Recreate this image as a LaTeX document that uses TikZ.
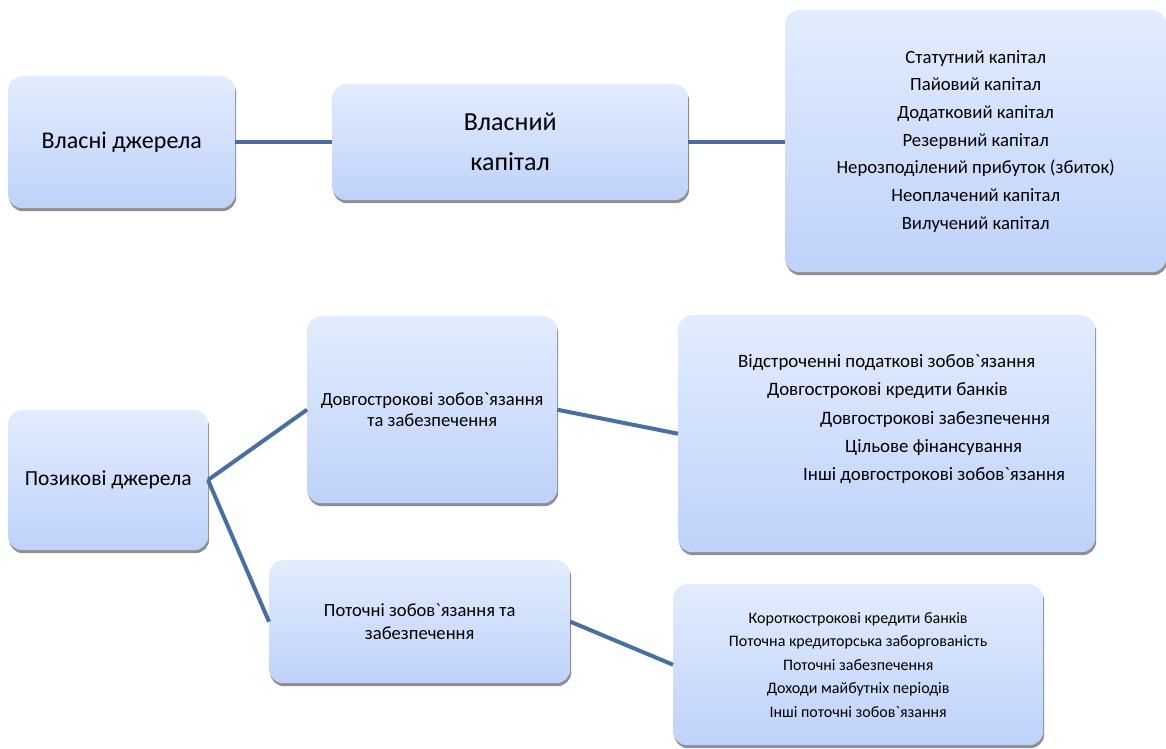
\documentclass[tikz,border=0pt]{standalone}
\usepackage{fontspec}
\setmainfont{Carlito}[Ligatures=TeXOff]
\usetikzlibrary{shadows}
\definecolor{boxtop}{RGB}{226,236,253}
\definecolor{boxbot}{RGB}{190,210,250}
\definecolor{linkc}{RGB}{74,110,162}
\definecolor{shadowc}{RGB}{130,130,130}
\tikzset{
  box/.style={rounded corners=14pt, top color=boxtop, bottom color=boxbot, draw=none,
    drop shadow={shadow xshift=1pt, shadow yshift=-3pt, fill=shadowc, opacity=0.9},
    anchor=north west, inner sep=0pt, align=center},
  link/.style={draw=linkc, line width=4pt},
  item/.style={font=\fontsize{18.9}{28}\selectfont, anchor=west, inner sep=0pt}
}
\begin{document}
\begin{tikzpicture}[x=1pt,y=-1pt]
\useasboundingbox (0,0) rectangle (1166,748);
\clip (0,0) rectangle (1166,748);
% boxes
\node[box, font=\fontsize{24}{28}\selectfont, minimum width=227pt, minimum height=132pt] (own) at (8,76) {Власні джерела};
\node[box, font=\fontsize{26}{40}\selectfont, minimum width=356pt, minimum height=116pt] (eq) at (332,84) {Власний\\капітал};
\node[box, font=\fontsize{18.7}{27.7}\selectfont, minimum width=381pt, minimum height=262pt] (eqlist) at (785,10)
  {Статутний капітал\\Пайовий капітал\\Додатковий капітал\\Резервний капітал\\Нерозподілений прибуток (збиток)\\Неоплачений капітал\\Вилучений капітал};
\node[box, font=\fontsize{21.5}{26}\selectfont, minimum width=200pt, minimum height=140pt] (loan) at (8,410) {Позикові джерела};
\node[box, font=\fontsize{18.6}{21}\selectfont, minimum width=250pt, minimum height=187pt] (lt) at (307,316) {Довгострокові зобов`язання\\та забезпечення};
\node[box, minimum width=417pt, minimum height=237pt] (ltlist) at (678,315) {};
\node[box, font=\fontsize{18.6}{23}\selectfont, minimum width=301pt, minimum height=123pt] (cur) at (269,560) {Поточні зобов`язання та\\забезпечення};
\node[box, font=\fontsize{16}{23.5}\selectfont, minimum width=370pt, minimum height=161pt] (curlist) at (673,584)
  {Короткострокові кредити банків\\Поточна кредиторська заборгованість\\Поточні забезпечення\\Доходи майбутніх періодів\\Інші поточні зобов`язання};
% long-term list items
\node[item] (lt1) at (738,363) {Відстроченні податкові зобов`язання};
\node[item] (lt2) at (767,391) {Довгострокові кредити банків};
\node[item] (lt3) at (820,420) {Довгострокові забезпечення};
\node[item] (lt4) at (845,448) {Цільове фінансування};
\node[item] (lt5) at (803,476) {Інші довгострокові зобов`язання};
% connectors
\coordinate (fork) at (208,480);
\draw[link] (own.east) -- (eq.west);
\draw[link] (eq.east) -- (eqlist.west |- eq.east);
\draw[link] (fork) -- (lt.west);
\draw[link] (fork) -- (cur.west);
\draw[link] (lt.east) -- (ltlist.west);
\draw[link] (cur.east) -- (curlist.west);
\end{tikzpicture}
\end{document}
